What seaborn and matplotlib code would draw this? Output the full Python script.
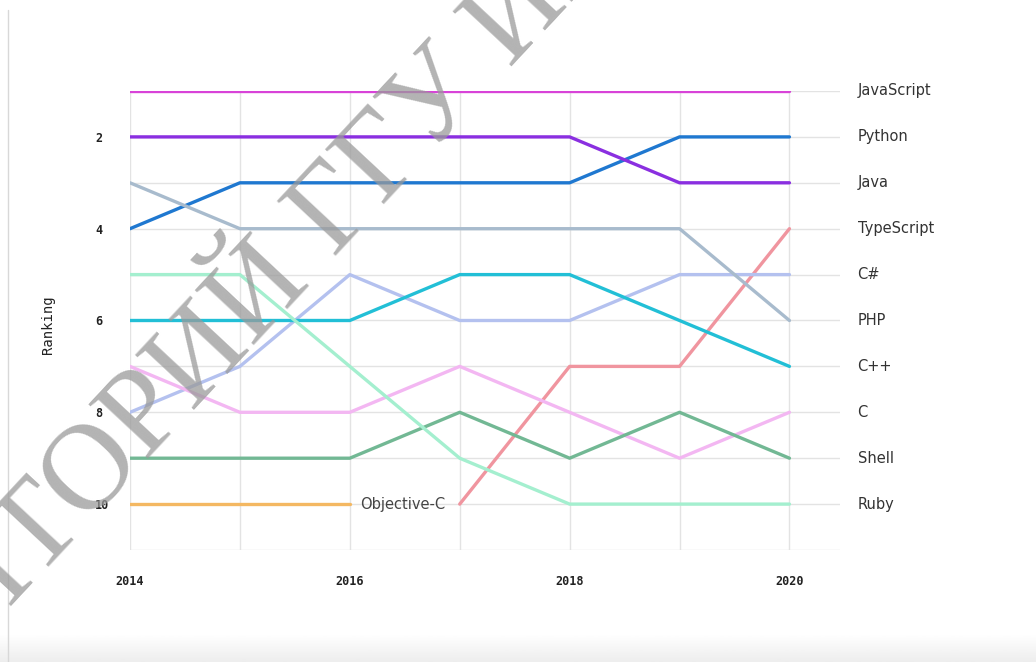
import numpy as np
import pandas as pd
import seaborn as sns
import matplotlib.pyplot as plt
from matplotlib.lines import Line2D

# ---- Données : classement des langages par année ----
years = [2014, 2015, 2016, 2017, 2018, 2019, 2020]
nan = np.nan
javascript = [1, 1, 1, 1, 1, 1, 1]
python = [4, 3, 3, 3, 3, 2, 2]
java = [2, 2, 2, 2, 2, 3, 3]
typescript = [nan, nan, nan, 10, 7, 7, 4]
csharp = [8, 7, 5, 6, 6, 5, 5]
php = [3, 4, 4, 4, 4, 4, 6]
cpp = [6, 6, 6, 5, 5, 6, 7]
c = [7, 8, 8, 7, 8, 9, 8]
shell = [9, 9, 9, 8, 9, 8, 9]
ruby = [5, 5, 7, 9, 10, 10, 10]
objc = [10, 10, 10, nan, nan, nan, nan]

languages = ["JavaScript", "Python", "Java", "TypeScript", "C#", "PHP",
             "C++", "C", "Shell", "Ruby", "Objective-C"]
series = [javascript, python, java, typescript, csharp, php, cpp, c, shell, ruby, objc]
colors = ["#d843d8", "#1f78d0", "#8a2fe0", "#f0959f", "#b4c1ef", "#a8bbcd",
          "#22bfd6", "#f3b7f2", "#72b894", "#a4efcf", "#f4b862"]
palette = dict(zip(languages, colors))

rows = []
for lang, vals in zip(languages, series):
    for y, v in zip(years, vals):
        if not np.isnan(v):
            rows.append((lang, y, v))
df = pd.DataFrame(rows, columns=["langage", "annee", "rang"])

sns.set_style("white")
fig = plt.figure(figsize=(10.36, 6.62), dpi=100)
ax = fig.add_axes([130 / 1036, 1 - 550 / 662, 710 / 1036, 459 / 662])

sns.lineplot(data=df, x="annee", y="rang", hue="langage", hue_order=languages,
             palette=palette, linewidth=2.4, legend=False, ax=ax, zorder=3)

ax.set_xlim(2014, 2020.46)
ax.set_ylim(11, 1)
for r in range(1, 12):
    ax.axhline(r, color="#e3e3e3", lw=1, zorder=1)
for y in years:
    ax.add_line(Line2D([y, y], [1, 11], color="#e3e3e3", lw=1, zorder=1))
sns.despine(ax=ax, left=True, bottom=True)

ax.set_xticks([2014, 2016, 2018, 2020])
ax.set_xticklabels(["2014", "2016", "2018", "2020"], family="DejaVu Sans Mono",
                   fontsize=8.5, fontweight="bold", color="#222")
ax.set_yticks([2, 4, 6, 8, 10])
ax.set_yticklabels(["2", "4", "6", "8", "10"], family="DejaVu Sans Mono",
                   fontsize=8.5, fontweight="bold", color="#222", ha="left")
ax.tick_params(axis="x", length=0, pad=18)
ax.tick_params(axis="y", length=0, pad=25)
ax.set_xlabel("")
ax.set_ylabel("")
fig.text(48 / 1036, 1 - 325 / 662, "Ranking", rotation=90, ha="center", va="center",
         family="DejaVu Sans Mono", fontsize=10, color="#222")

# étiquettes à droite (rang 2020)
for lang, vals in zip(languages, series):
    if not np.isnan(vals[-1]):
        ax.text(2020.62, vals[-1], lang, ha="left", va="center", fontsize=10.5,
                color="#333", family="DejaVu Sans", clip_on=False)
ax.text(2016.09, 10, "Objective-C", ha="left", va="center", fontsize=10.5,
        color="#444", family="DejaVu Sans")

# bordure de page et bande grise du bas
fig.add_artist(Line2D([8 / 1036, 8 / 1036], [0, 1 - 10 / 662], color="#d8d8d8", lw=1))
band = fig.add_axes([0, 0, 1, 28 / 662], zorder=-1)
band.imshow(np.linspace(1, 0.93, 50).reshape(-1, 1), cmap="gray", vmin=0, vmax=1,
            aspect="auto", extent=[0, 1, 0, 1])
band.axis("off")

# filigrane
wm = dict(family="Liberation Serif", fontsize=88, color="#9a9a9a", alpha=0.75,
          rotation=47, rotation_mode="anchor", va="baseline", zorder=10)
fig.text(312 / 1036, 1 - 280 / 662, "РЕПОЗИТОРИЙ", ha="right", **wm)
fig.text(334 / 1036, 1 - 258 / 662, "ГГУ ИМЕНИ Ф. СКОРИНЫ", ha="left", **wm)

fig.savefig("out.png", dpi=100)
